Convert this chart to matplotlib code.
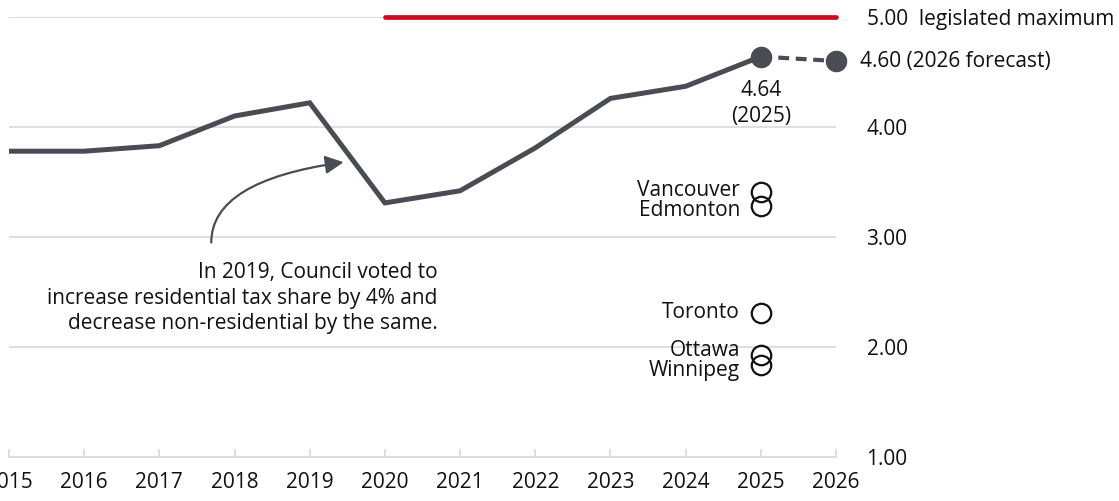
import matplotlib
matplotlib.use("Agg")
import matplotlib.pyplot as plt

# Residential-to-non-residential tax ratio
years = [2015, 2016, 2017, 2018, 2019, 2020, 2021, 2022, 2023, 2024, 2025]
ratio = [3.78, 3.78, 3.83, 4.10, 4.22, 3.31, 3.42, 3.81, 4.26, 4.37, 4.64]
forecast_year = 2026
forecast_value = 4.60

# Legislated maximum ratio, in force from 2020
max_years = [2020, 2026]
max_value = 5.00

# Comparator cities (2025)
cities = ["Vancouver", "Edmonton", "Toronto", "Ottawa", "Winnipeg"]
city_ratio = [3.41, 3.28, 2.31, 1.93, 1.84]

x_ticks = list(range(2015, 2027))
y_ticks = [1.0, 2.0, 3.0, 4.0, 5.0]
y_tick_labels = ["1.00", "2.00", "3.00", "4.00", "5.00  legislated maximum"]

LINE = "#4a4c53"
RED = "#cc0a22"
GRID = "#d9d9d9"
TEXT = "#111111"
FS = 15

plt.rcParams["font.family"] = ["Open Sans", "DejaVu Sans"]

fig = plt.figure(figsize=(11.19, 5.01), dpi=100)
ax = fig.add_axes([9 / 1119, 44 / 501, 827 / 1119, 440 / 501])
ax.set_xlim(2015, 2026)
ax.set_ylim(1.0, 5.0)

for s in ["top", "left", "right"]:
    ax.spines[s].set_visible(False)
ax.spines["bottom"].set_color(GRID)
ax.spines["bottom"].set_linewidth(1.3)

for v in y_ticks[1:]:
    ax.axhline(v, color=GRID, lw=1.2, zorder=0)

ax.set_xticks(x_ticks)
ax.set_xticklabels([str(y) for y in x_ticks], fontsize=FS, color=TEXT)
ax.tick_params(axis="x", direction="in", length=6, width=1.2, color=GRID, pad=11)

ax.yaxis.tick_right()
ax.set_yticks(y_ticks)
ax.set_yticklabels(y_tick_labels, fontsize=FS, color=TEXT)
ax.tick_params(axis="y", length=0, pad=22)

# legislated maximum
ax.plot(max_years, [max_value, max_value], color=RED, lw=3.4,
        solid_capstyle="round", zorder=3, clip_on=False)

# historic ratio
ax.plot(years, ratio, color=LINE, lw=3.6, solid_joinstyle="miter",
        solid_capstyle="butt", zorder=4)
# forecast segment
ax.plot([years[-1], forecast_year], [ratio[-1], forecast_value], color=LINE,
        lw=3.0, dashes=(2.6, 1.6), zorder=4)
ax.plot([years[-1], forecast_year], [ratio[-1], forecast_value], "o",
        color=LINE, ms=14.5, zorder=5, clip_on=False)

ax.annotate(f"{ratio[-1]:.2f}\n(2025)", xy=(years[-1], ratio[-1]),
            xytext=(0, -17), textcoords="offset points", ha="center", va="top",
            fontsize=FS, color=TEXT, linespacing=1.3)
ax.annotate(f"{forecast_value:.2f} (2026 forecast)", xy=(forecast_year, forecast_value),
            xytext=(17, 0), textcoords="offset points", ha="left", va="center",
            fontsize=FS, color=TEXT, annotation_clip=False)

# comparator cities
label_dy = [1, -3, 0, 3, -4]
for name, val, dy in zip(cities, city_ratio, label_dy):
    ax.plot(years[-1], val, "o", ms=14, mfc="none", mec=TEXT, mew=1.6, zorder=5)
    ax.annotate(name, xy=(years[-1], val), xytext=(-15, dy), textcoords="offset points",
                ha="right", va="center", fontsize=FS, color=TEXT)

# note on the 2019 council decision
ax.annotate("", xy=(2019.45, 3.68), xytext=(2017.69, 2.95),
            arrowprops=dict(arrowstyle="-|>,head_length=1.1,head_width=0.55",
                            connectionstyle="angle3,angleA=90,angleB=8",
                            color=LINE, lw=1.6, shrinkA=0, shrinkB=0))
ax.text(2020.7, 2.775,
        "In 2019, Council voted to\nincrease residential tax share by 4% and\n"
        "decrease non-residential by the same.",
        ha="right", va="top", fontsize=FS, color=TEXT, linespacing=1.3)

fig.savefig("out.png", dpi=100)
